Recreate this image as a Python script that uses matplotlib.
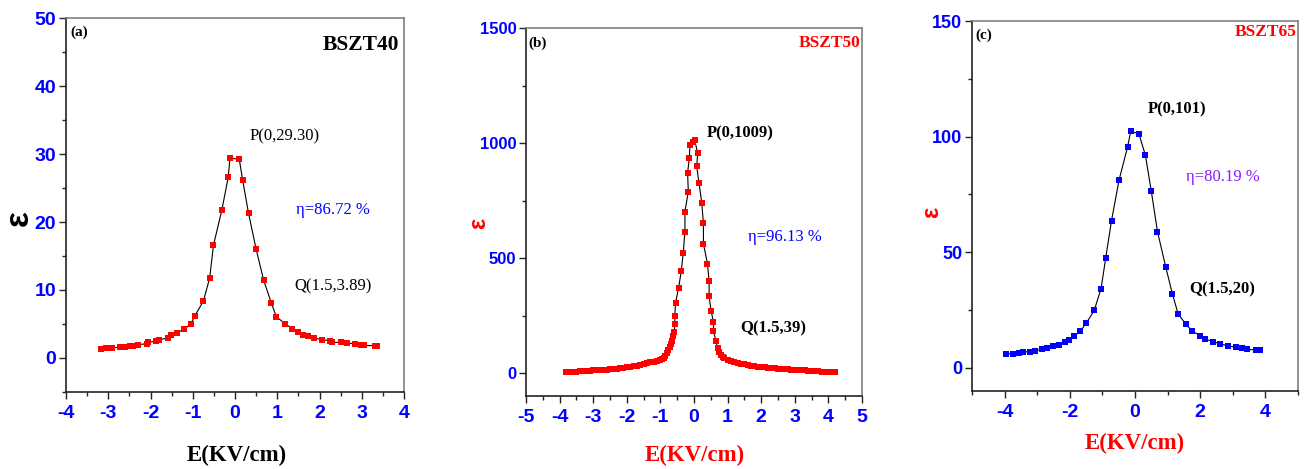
import matplotlib
matplotlib.use("Agg")
import matplotlib.pyplot as plt
from matplotlib.ticker import MultipleLocator

plt.rcParams['axes.unicode_minus'] = False

# ---------------- data ----------------
# Panel (a) BSZT40
a_E = [-3.17, -3.05, -2.90, -2.72, -2.60, -2.49, -2.41, -2.29, -2.09, -2.07, -1.86, -1.79,
       -1.58, -1.52, -1.37, -1.20, -1.04, -0.95, -0.75, -0.60, -0.51, -0.31, -0.16, -0.12,
       0.10, 0.18, 0.32, 0.50, 0.68, 0.86, 0.98, 1.19, 1.36, 1.48, 1.61, 1.73, 1.87, 2.06,
       2.24, 2.30, 2.52, 2.66, 2.85, 2.99, 3.05, 3.31, 3.37]
a_eps = [1.37, 1.42, 1.47, 1.62, 1.67, 1.76, 1.81, 1.96, 2.11, 2.30, 2.45, 2.70,
         2.94, 3.33, 3.68, 4.26, 5.05, 6.23, 8.33, 11.76, 16.57, 21.8, 26.6, 29.36,
         29.26, 26.2, 21.3, 16.0, 11.4, 8.09, 6.03, 5.05, 4.26, 3.82, 3.43, 3.19, 2.94, 2.70,
         2.55, 2.30, 2.30, 2.21, 2.06, 1.96, 1.86, 1.81, 1.76]

# Panel (b) BSZT50
b_E = [-3.8, -3.7, -3.6, -3.5, -3.4, -3.3, -3.2, -3.1, -3.0, -2.9, -2.8, -2.7, -2.6, -2.5,
       -2.4, -2.3, -2.2, -2.1, -2.0, -1.9, -1.8, -1.7, -1.6, -1.5, -1.4, -1.3, -1.2, -1.1,
       -1.0, -0.95, -0.9, -0.85, -0.8, -0.76, -0.72, -0.68, -0.65, -0.62,
       -0.59, -0.57, -0.57, -0.55, -0.46, -0.38, -0.32, -0.27, -0.27, -0.17, -0.19, -0.14,
       -0.12, -0.03, 0.02,
       0.11, 0.08, 0.15, 0.23, 0.28, 0.28, 0.40, 0.45, 0.45, 0.51, 0.58, 0.58, 0.65, 0.70, 0.74,
       0.8, 0.85, 0.9, 1.0, 1.1, 1.2, 1.3, 1.4, 1.5, 1.6, 1.7, 1.8, 1.9, 2.0, 2.1, 2.2, 2.3,
       2.4, 2.5, 2.6, 2.7, 2.8, 2.9, 3.0, 3.1, 3.2, 3.3, 3.4, 3.5, 3.6, 3.7, 3.8, 3.9, 4.0,
       4.1, 4.2]
b_eps = [3, 4, 5, 6, 7, 8, 9, 10, 11, 12, 13, 14, 15, 17,
         18, 19, 21, 23, 25, 27, 29, 32, 35, 38, 42, 46, 50, 54,
         58, 62, 67, 75, 88, 100, 112, 126, 141, 160,
         177, 211, 250, 304, 369, 442, 522, 614, 701, 789, 869, 934,
         990, 1005, 1012,
         956, 898, 825, 741, 651, 563, 476, 399, 333, 269, 221, 182, 141, 110, 90,
         78, 70, 65, 58, 53, 49, 45, 41, 38, 35, 32, 30, 28, 26, 24, 23, 21,
         20, 19, 18, 17, 16, 15, 14, 13, 12, 11, 10, 9, 8, 7, 6, 5, 4,
         4, 3]

# Panel (c) BSZT65
c_E = [-3.95, -3.73, -3.57, -3.44, -3.22, -3.06, -2.86, -2.71, -2.52, -2.34, -2.16, -2.03,
       -1.86, -1.68, -1.50, -1.25, -1.04, -0.90, -0.72, -0.49, -0.23, -0.13,
       0.12, 0.32, 0.50, 0.69, 0.94, 1.15, 1.32, 1.56, 1.76, 1.99, 2.14, 2.40, 2.62, 2.85,
       3.10, 3.29, 3.43, 3.70, 3.82]
c_eps = [6.07, 6.21, 6.50, 6.79, 7.08, 7.51, 7.95, 8.53, 9.25, 10.1, 11.0, 12.1,
         13.9, 15.8, 19.2, 24.9, 34.3, 47.4, 63.7, 81.2, 95.4, 102.3,
         101.2, 91.9, 76.4, 58.9, 43.8, 31.8, 23.5, 18.8, 15.9, 14.0, 12.6, 11.3, 10.4, 9.5,
         8.96, 8.38, 7.95, 7.80, 7.80]

# ---------------- figure ----------------
W, H = 1305, 469
fig = plt.figure(figsize=(W / 100, H / 100), dpi=100)


def rect(l, r, t, b):
    return [l / W, 1 - b / H, (r - l) / W, (b - t) / H]


def ftext(x, y, s, **kw):
    kw.setdefault('ha', 'center')
    kw.setdefault('va', 'center')
    fig.text(x / W, 1 - y / H, s, **kw)


SANS = 'Liberation Sans'
SERIF = 'Liberation Serif'
BLUE = '#0000FF'
RED = '#FF0000'


def style_axes(ax, xlim, ylim, xmaj, xmin, ymaj, ymin, xfs, yfs):
    ax.set_xlim(*xlim)
    ax.set_ylim(*ylim)
    ax.xaxis.set_major_locator(MultipleLocator(xmaj))
    ax.xaxis.set_minor_locator(MultipleLocator(xmin))
    ax.yaxis.set_major_locator(MultipleLocator(ymaj))
    ax.yaxis.set_minor_locator(MultipleLocator(ymin))
    for s in ('left', 'bottom'):
        ax.spines[s].set_color('#222222')
        ax.spines[s].set_linewidth(1.2)
    for s in ('top', 'right'):
        ax.spines[s].set_color('#808080')
        ax.spines[s].set_linewidth(1.2)
    ax.tick_params(which='both', direction='out', top=False, right=False,
                   color='#222222', width=1.0)
    ax.tick_params(which='major', length=5)
    ax.tick_params(which='minor', length=3)
    ax.tick_params(axis='x', which='major', pad=4, labelsize=xfs, labelcolor=BLUE)
    ax.tick_params(axis='y', which='major', pad=2, labelsize=yfs, labelcolor=BLUE)


def font_ticks(ax):
    for lab in ax.get_xticklabels() + ax.get_yticklabels():
        lab.set_fontfamily(SANS)
        lab.set_fontweight('bold')


# Panel (a)
axa = fig.add_axes(rect(66, 404, 18, 392))
axa.plot(a_E, a_eps, color='black', lw=0.8, marker='s', ms=5.0,
         mfc=RED, mec=RED, mew=0)
style_axes(axa, (-4, 4), (-5, 50), 1, 0.5, 10, 5, 14, 14)
axa.set_yticks([0, 10, 20, 30, 40, 50])

# Panel (b)
axb = fig.add_axes(rect(526, 862, 28, 396))
axb.plot(b_E, b_eps, color='black', lw=0.8, marker='s', ms=5.0,
         mfc=RED, mec=RED, mew=0)
style_axes(axb, (-5, 5), (-100, 1500), 1, 0.5, 500, 250, 14, 12)
axb.set_yticks([0, 500, 1000, 1500])

# Panel (c)
axc = fig.add_axes(rect(972, 1298, 21, 391))
axc.plot(c_E, c_eps, color='black', lw=0.8, marker='s', ms=5.0,
         mfc=BLUE, mec=BLUE, mew=0)
style_axes(axc, (-5, 5), (-10, 150), 2, 1, 50, 25, 14, 13)
axc.set_xticks([-4, -2, 0, 2, 4])
axc.set_yticks([0, 50, 100, 150])

for ax in (axa, axb, axc):
    font_ticks(ax)

# ---------------- texts ----------------
# panel (a)
ftext(79, 32, '(a)', family=SERIF, weight='bold', fontsize=11, color='black')
ftext(399, 45, 'BSZT40', family=SERIF, weight='bold', fontsize=15.5, color='black', ha='right')
ftext(285, 136, 'P(0,29.30)', family=SERIF, fontsize=12, color='black')
ftext(333, 210, 'η=86.72 %', family=SERIF, fontsize=12, color=BLUE)
ftext(333, 286, 'Q(1.5,3.89)', family=SERIF, fontsize=12, color='black')
ftext(19, 218, 'ε', family=SANS, weight='bold', fontsize=24, color='black', rotation=90)
ftext(237, 455, 'E(KV/cm)', family=SERIF, weight='bold', fontsize=16.5, color='black')

# panel (b)
ftext(538, 43, '(b)', family=SERIF, weight='bold', fontsize=11, color='black')
ftext(860, 43, 'BSZT50', family=SERIF, weight='bold', fontsize=12.5, color=RED, ha='right')
ftext(740, 133, 'P(0,1009)', family=SERIF, weight='bold', fontsize=12, color='black')
ftext(785, 237, 'η=96.13 %', family=SERIF, fontsize=12, color=BLUE)
ftext(773, 328, 'Q(1.5,39)', family=SERIF, weight='bold', fontsize=12, color='black')
ftext(479, 223, 'ε', family=SANS, weight='bold', fontsize=17, color=RED, rotation=90)
ftext(695, 455, 'E(KV/cm)', family=SERIF, weight='bold', fontsize=16.5, color=RED)

# panel (c)
ftext(984, 35, '(c)', family=SERIF, weight='bold', fontsize=11, color='black')
ftext(1297, 32, 'BSZT65', family=SERIF, weight='bold', fontsize=12.5, color=RED, ha='right')
ftext(1177, 109, 'P(0,101)', family=SERIF, weight='bold', fontsize=12, color='black')
ftext(1223, 177, 'η=80.19 %', family=SERIF, fontsize=12, color='#8B1AFF')
ftext(1222, 289, 'Q(1.5,20)', family=SERIF, weight='bold', fontsize=12, color='black')
ftext(932, 212, 'ε', family=SANS, weight='bold', fontsize=17, color=RED, rotation=90)
ftext(1135, 443, 'E(KV/cm)', family=SERIF, weight='bold', fontsize=16.5, color=RED)

fig.savefig('out.png', dpi=100)
